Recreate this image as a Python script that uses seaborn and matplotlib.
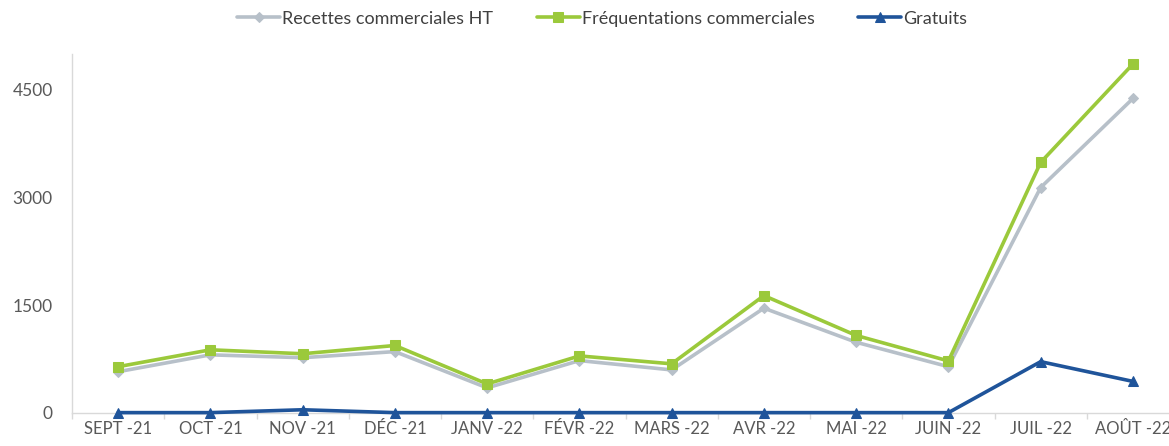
import numpy as np
import pandas as pd
import matplotlib
matplotlib.use('Agg')
import matplotlib.pyplot as plt
import seaborn as sns

# ---------------------------------------------------------------------------
# Data
# ---------------------------------------------------------------------------
months = ['SEPT -21', 'OCT -21', 'NOV -21', 'DÉC -21', 'JANV -22', 'FÉVR -22',
          'MARS -22', 'AVR -22', 'MAI -22', 'JUIN -22', 'JUIL -22', 'AOÛT -22']
recettes = [575, 810, 770, 855, 350, 730, 600, 1460, 985, 645, 3140, 4380]
frequentations = [645, 880, 825, 940, 405, 795, 685, 1635, 1080, 725, 3490, 4860]
gratuits = [5, 5, 45, 5, 5, 5, 5, 5, 5, 5, 715, 440]

series_names = ['Recettes commerciales HT', 'Fréquentations commerciales', 'Gratuits']
series_colors = ['#b7c0c9', '#9bc93b', '#1f549a']
series_markers = ['D', 's', '^']
marker_sizes = [5, 7.5, 7]

df = pd.DataFrame({
    'pos': list(range(len(months))) * 3,
    'value': recettes + frequentations + gratuits,
    'series': np.repeat(series_names, len(months)),
})

sns.set_theme(style="white")
plt.rcParams['font.family'] = ['Lato', 'DejaVu Sans']

fig = plt.figure(figsize=(11.69, 4.46), dpi=100)
ax = fig.add_axes([0.0616, 0.074, 0.947, 0.805])

for name, color, marker, ms in zip(series_names, series_colors, series_markers, marker_sizes):
    sub = df[df['series'] == name]
    sns.lineplot(data=sub, x='pos', y='value', ax=ax, color=color, lw=2.6,
                 marker=marker, markersize=ms, markeredgecolor=color,
                 label=name, clip_on=False,
                 zorder=3 if name != series_names[0] else 2)

ax.set_xlim(-0.5, len(months) - 0.5)
ax.set_ylim(0, 5000)
ax.set_yticks([0, 1500, 3000, 4500])
ax.set_xticks(range(len(months)))
ax.set_xticklabels(months)
ax.set_xticks(np.arange(-0.5, len(months), 1), minor=True)
ax.set_xlabel('')
ax.set_ylabel('')

for side in ['top', 'right']:
    ax.spines[side].set_visible(False)
for side in ['left', 'bottom']:
    ax.spines[side].set_color('#d9d9d9')
    ax.spines[side].set_linewidth(1.0)
    ax.spines[side].set_zorder(1)

ax.tick_params(axis='y', length=0, pad=14, labelsize=12.5, labelcolor='#595959')
ax.tick_params(axis='x', which='major', length=0, pad=6, labelsize=12, labelcolor='#595959')
ax.tick_params(axis='x', which='minor', length=4, color='#d9d9d9', width=1, bottom=True)

ax.legend(loc='center', bbox_to_anchor=(0.515, 0.958), bbox_transform=fig.transFigure,
          ncol=3, frameon=False, fontsize=13, handlelength=2.4, handletextpad=0.1,
          columnspacing=2.4, labelcolor='#404040')

fig.savefig('out.png', dpi=100)
plt.close(fig)
